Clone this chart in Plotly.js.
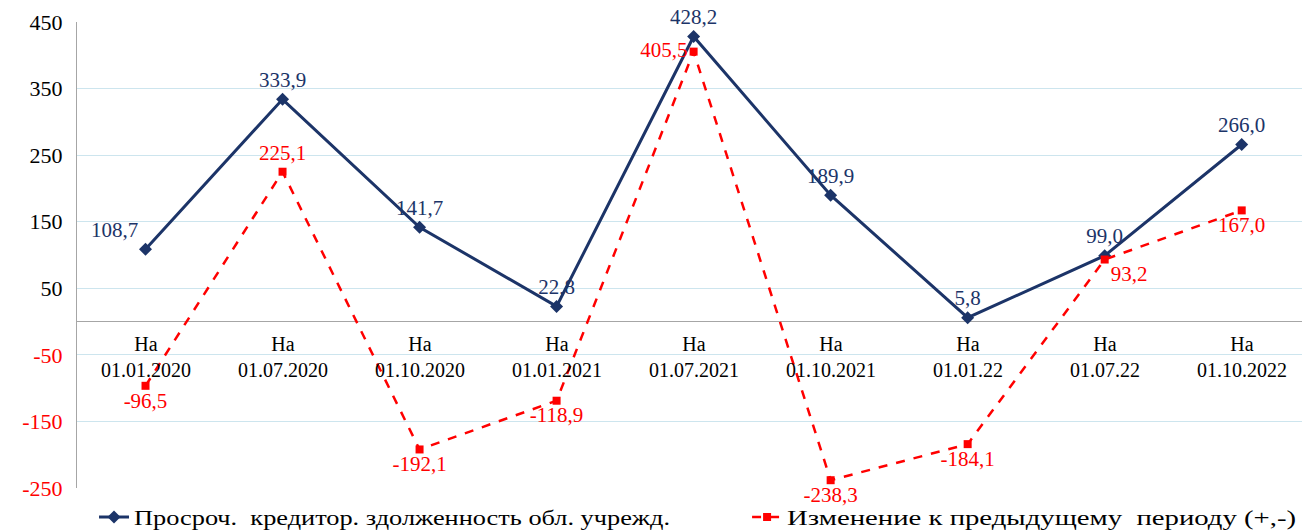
<!DOCTYPE html>
<html>
<head>
<meta charset="utf-8">
<script src="https://cdn.plot.ly/plotly-3.0.1.min.js"></script>
<style>
html,body{margin:0;padding:0;background:#fff;}
#chart{width:1302px;height:532px;}
</style>
</head>
<body>
<div id="chart"></div>
<script>
const categories = ["На<br>01.01.2020","На<br>01.07.2020","На<br>01.10.2020","На<br>01.01.2021","На<br>01.07.2021","На<br>01.10.2021","На<br>01.01.22","На<br>01.07.22","На<br>01.10.2022"];
const debtValues = [108.7, 333.9, 141.7, 22.8, 428.2, 189.9, 5.8, 99.0, 266.0];
const changeValues = [-96.5, 225.1, -192.1, -118.9, 405.5, -238.3, -184.1, 93.2, 167.0];
const seriesNames = ["Просроч.  кредитор. здолженность обл. учрежд.", "Изменение к предыдущему  периоду (+,-)"];
const yTickVals = [450, 350, 250, 150, 50, -50, -150, -250];

const navy = "#1c3468";
const red = "#ff0000";
const fontFam = "'Liberation Serif', 'Times New Roman', serif";
const fmt = v => v.toFixed(1).replace(".", ",");
const xIdx = categories.map((c, i) => i);

const debtPos = ["top left","top center","top center","top center","top center","top center","top center","top center","top center"];
const changePos = ["bottom center","top center","bottom center","bottom center","middle left","bottom center","bottom center","bottom right","bottom center"];

const traces = [
  {
    x: xIdx, y: debtValues, name: seriesNames[0], legend: "legend",
    type: "scatter", mode: "lines+markers+text",
    line: {color: navy, width: 3},
    marker: {symbol: "diamond", size: 10, color: navy},
    text: debtValues.map(fmt), textposition: debtPos,
    textfont: {family: fontFam, size: 21, color: navy},
    cliponaxis: false
  },
  {
    x: xIdx, y: changeValues, name: seriesNames[1], legend: "legend2",
    type: "scatter", mode: "lines+markers+text",
    line: {color: red, width: 2.5, dash: "dash"},
    marker: {symbol: "square", size: 8, color: red},
    text: changeValues.map(fmt), textposition: changePos,
    textfont: {family: fontFam, size: 21, color: red},
    cliponaxis: false
  }
];

const annotations = categories.map((c, i) => ({
  x: i, y: 0, xref: "x", yref: "y",
  text: c, showarrow: false, yanchor: "top", yshift: -9,
  font: {family: fontFam, size: 20, color: "#000"}
}));

const legFont = {family: fontFam, size: 21, color: "#000"};
const layout = {
  width: 1302, height: 532,
  margin: {l: 77, r: 0, t: 22, b: 44, autoexpand: false},
  paper_bgcolor: "#fff", plot_bgcolor: "#fff",
  showlegend: true,
  legend: {orientation: "h", x: 0.0139, xanchor: "left", y: -0.063, yanchor: "middle",
           font: legFont, bgcolor: "rgba(0,0,0,0)"},
  legend2: {orientation: "h", x: 0.547, xanchor: "left", y: -0.063, yanchor: "middle",
           font: legFont, bgcolor: "rgba(0,0,0,0)"},
  xaxis: {
    range: [-0.5, 8.44], showticklabels: false, showgrid: false, zeroline: false,
    showline: false, ticks: "", fixedrange: true
  },
  yaxis: {
    range: [-250, 450], tickvals: yTickVals,
    ticktext: yTickVals.map(v => v < 0 ? '<span style="color:#ff0000">' + v + '</span>' : String(v)),
    tickfont: {family: fontFam, size: 22, color: "#000"},
    showgrid: true, gridcolor: "#cde5ee", gridwidth: 1,
    zeroline: true, zerolinecolor: "#a6a6a6", zerolinewidth: 1.5,
    showline: true, linecolor: "#a6a6a6", linewidth: 1,
    ticks: "", ticklen: 0, ticklabelstandoff: 9
  },
  annotations: annotations
};

const legendKeys = ["Просроч", "Изменение"];
const legendTextWidths = [536, 509];
function stretchLegend() {
  const gd = document.getElementById("chart");
  gd.querySelectorAll("text").forEach(t => {
    const txt = t.textContent || "";
    legendKeys.forEach((k, i) => {
      if (txt.indexOf(k) >= 0) {
        t.setAttribute("textLength", legendTextWidths[i]);
        t.setAttribute("lengthAdjust", "spacingAndGlyphs");
        t.querySelectorAll("tspan").forEach(s => {
          s.setAttribute("textLength", legendTextWidths[i]);
          s.setAttribute("lengthAdjust", "spacingAndGlyphs");
        });
        let p = t;
        while (p && p !== gd) {
          if (p.removeAttribute) p.removeAttribute("clip-path");
          p = p.parentNode;
        }
      }
    });
  });
}
Plotly.newPlot("chart", traces, layout, {displayModeBar: false, staticPlot: true}).then(gd => {
  stretchLegend();
  gd.on("plotly_afterplot", stretchLegend);
  setTimeout(stretchLegend, 30);
  setTimeout(stretchLegend, 200);
});
</script>
</body>
</html>
